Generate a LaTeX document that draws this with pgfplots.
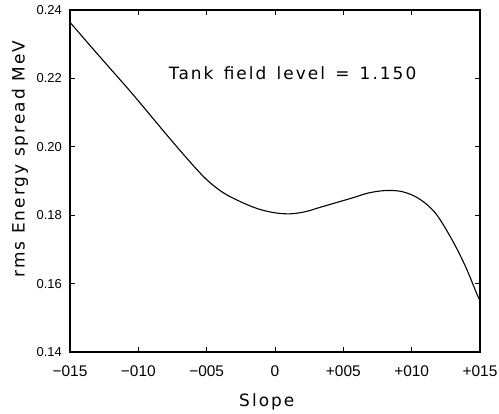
\documentclass[border=0pt]{standalone}
\usepackage{fontspec}
\setmainfont{DejaVu Sans}
\newfontfamily\labfont[LetterSpace=12]{DejaVu Sans}
\newfontfamily\tickfont{Liberation Sans}
\usepackage{pgfplots}
\pgfplotsset{compat=1.18}
\begin{document}
\begin{tikzpicture}
\path[use as bounding box] (-70bp,-62bp) rectangle (429bp,352bp);
\begin{axis}[
  at={(0,0)}, anchor=south west,
  scale only axis, width=410bp, height=342bp,
  xmin=-0.15, xmax=0.15, ymin=0.14, ymax=0.24,
  axis line style={line width=1.4pt},
  tick style={line width=0.9pt, black},
  major tick length=5bp,
  tick align=inside,
  xtick={-0.15,-0.10,-0.05,0,0.05,0.10,0.15},
  xticklabels={−015,−010,−005,0,+005,+010,+015},
  ytick={0.14,0.16,0.18,0.20,0.22,0.24},
  yticklabels={0.14,0.16,0.18,0.20,0.22,0.24},
  xticklabel style={font=\tickfont\fontsize{15.5}{15.5}\selectfont, anchor=base, inner sep=0pt, yshift=-24bp},
  yticklabel style={font=\tickfont\fontsize{13}{13}\selectfont, anchor=east, inner sep=0pt, xshift=-8bp},
  /pgf/number format/assume math mode=true,
  xlabel={Slope},
  ylabel={rms Energy spread MeV},
  xlabel style={font=\labfont\fontsize{17}{17}\selectfont, at={(axis description cs:0.48,-0.158)}, anchor=base, inner sep=0pt},
  ylabel style={font=\labfont\fontsize{17}{17}\selectfont, at={(axis description cs:-0.122,0.564)}, anchor=center, inner sep=0pt},
]
\addplot[black, line width=1.1pt, smooth, tension=0.55] coordinates {
(-0.150,0.2364) (-0.1292,0.2268) (-0.1046,0.2156) (-0.0801,0.2039) (-0.0620,0.1955)
(-0.0500,0.1904) (-0.0380,0.1866) (-0.0250,0.1839) (-0.0120,0.1818) (0.0000,0.1807)
(0.0110,0.1804) (0.0220,0.1810) (0.0330,0.1823) (0.0450,0.1837) (0.0570,0.1851)
(0.0684,0.1865) (0.0807,0.1872) (0.0929,0.1869) (0.1051,0.1849) (0.1174,0.1806)
(0.1297,0.1727) (0.1395,0.1649) (0.1480,0.1567) (0.1500,0.1552)
};
\node[font=\labfont\fontsize{17}{17}\selectfont, anchor=base] at (axis cs:0.0129,0.2198) {Tank\ \,field\ \,level\ \,=\ \,1.150};
\end{axis}
\end{tikzpicture}
\end{document}
